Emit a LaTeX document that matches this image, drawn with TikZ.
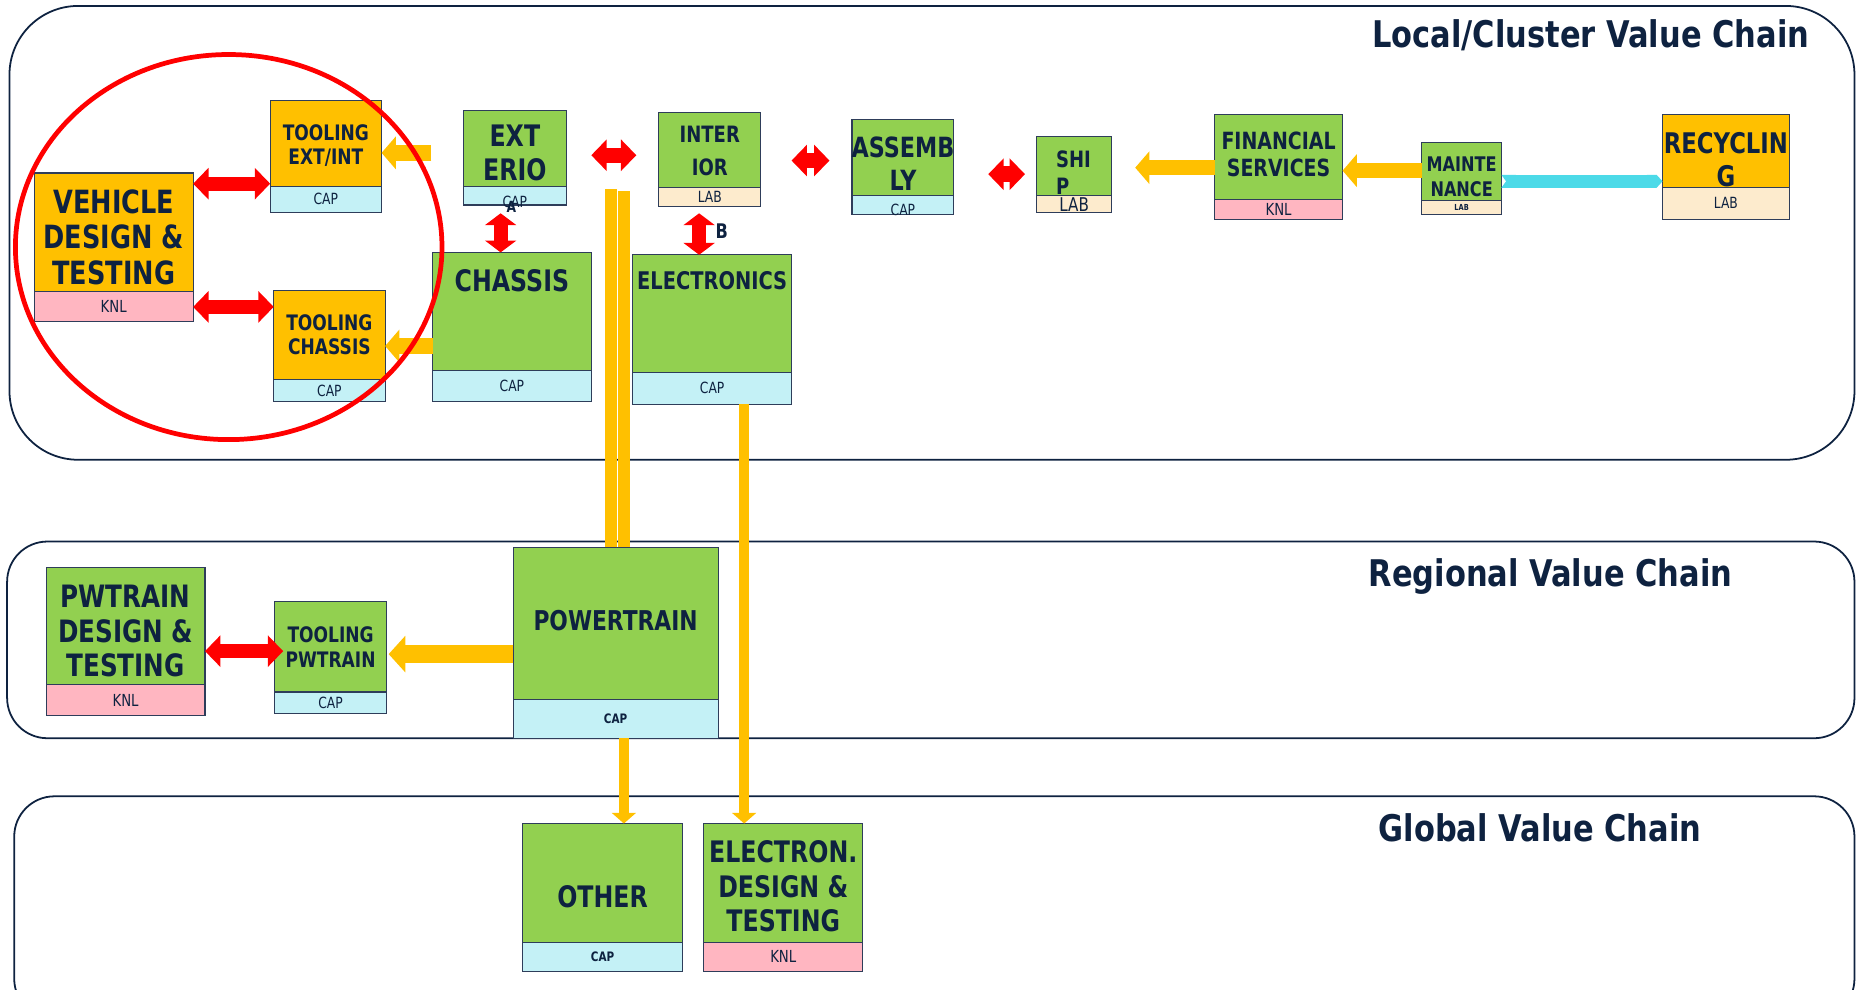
\documentclass[tikz,border=0pt]{standalone}
\usepackage{fontspec}
\setmainfont{DejaVu Sans}
\newfontfamily\boxfont[FakeStretch=0.8]{DejaVu Sans}
\newfontfamily\titlefont[FakeStretch=0.83]{DejaVu Sans}
\usetikzlibrary{arrows.meta,fit,calc}

\definecolor{navy}{HTML}{0E2240}
\definecolor{edgegrey}{HTML}{2E3D5A}
\definecolor{boxorange}{HTML}{FFC000}
\definecolor{boxgreen}{HTML}{92D050}
\definecolor{capblue}{HTML}{C4F1F6}
\definecolor{knlpink}{HTML}{FFB6C1}
\definecolor{labbeige}{HTML}{FDEBCD}
\definecolor{flowyellow}{HTML}{FFC000}
\definecolor{flowcyan}{HTML}{4CDAE8}
\definecolor{linkred}{HTML}{FF0000}

\tikzset{
  chainframe/.style={draw=navy, line width=1.5pt, rounded corners=#1},
  part/.style={draw=edgegrey, line width=0.9pt, inner sep=0pt, outer sep=0pt},
  lbl/.style n args={2}{text=navy, align=center, inner sep=0pt,
    font=\boxfont\bfseries\fontsize{#1}{#2}\selectfont},
  tag/.style={text=navy, inner sep=0pt, font=\boxfont\fontsize{#1}{#1}\selectfont},
  boldtag/.style={text=navy, inner sep=0pt, font=\boxfont\bfseries\fontsize{#1}{#1}\selectfont},
  chaintitle/.style={text=navy, inner sep=0pt, anchor=base east,
    font=\titlefont\bfseries\fontsize{31}{31}\selectfont},
  redlink/.style={draw=linkred, line width=12pt,
    {Triangle[length=13pt,width=26pt]}-{Triangle[length=13pt,width=26pt]}},
  redlinkv/.style={draw=linkred, line width=12pt,
    {Triangle[length=10pt,width=26pt]}-{Triangle[length=10pt,width=26pt]}},
  yellowflow/.style={draw=flowyellow, line width=13pt,
    -{Triangle[length=12pt,width=27pt]}},
  yellowdown/.style={draw=flowyellow, line width=9pt,
    -{Triangle[length=9pt,width=20pt]}},
  yellowbar/.style={draw=flowyellow, line width=9.5pt},
  cyanflow/.style={draw=flowcyan, line width=11pt,
    {Triangle Cap[reversed,length=4pt]}-{Triangle Cap[length=5pt]}},
}

% value-chain block: name, x1, y1, x2, y of the split, y2, body fill, strip fill
\newcommand\chainblock[8]{%
  \node[part, fill=#7, fit={(#2,#3) (#4,#5)}] (#1) {};
  \node[part, fill=#8, fit={(#2,#5) (#4,#6)}] (#1-s) {};
}

\begin{document}
\begin{tikzpicture}[x=1pt, y=-1pt]
\useasboundingbox (0,0) rectangle (1568,835);
\clip (0,0) rectangle (1568,835);

% the three value-chain frames
\draw[chainframe=58pt] (8,5) rectangle (1565,388);
\draw[chainframe=34pt] (6,457) rectangle (1565,623);
\draw[chainframe=34pt] (12,672) rectangle (1565,860);
\node[chaintitle] (t-local) at (1527,40) {Local/Cluster Value Chain};
\node[chaintitle] (t-regional) at (1462,495) {Regional Value Chain};
\node[chaintitle] (t-global) at (1436,710) {Global Value Chain};

% blocks
\chainblock{vehicle}{29}{146}{163}{246}{271}{boxorange}{knlpink}
\chainblock{toolext}{228}{85}{322}{157}{179}{boxorange}{capblue}
\chainblock{toolchas}{231}{245}{325}{320}{339}{boxorange}{capblue}
\chainblock{exterio}{391}{93}{478}{157}{173}{boxgreen}{capblue}
\chainblock{chassis}{365}{213}{499}{313}{339}{boxgreen}{capblue}
\chainblock{interior}{556}{95}{642}{158}{174}{boxgreen}{labbeige}
\chainblock{electronics}{534}{215}{668}{314}{341}{boxgreen}{capblue}
\chainblock{assembly}{719}{101}{805}{165}{181}{boxgreen}{capblue}
\chainblock{ship}{875}{115}{938}{165}{179}{boxgreen}{labbeige}
\chainblock{financial}{1025}{97}{1133}{168}{185}{boxgreen}{knlpink}
\chainblock{maint}{1200}{120}{1267}{169}{181}{boxgreen}{labbeige}
\chainblock{recyc}{1403}{97}{1510}{158}{185}{boxorange}{labbeige}
\chainblock{pwdesign}{39}{479}{173}{578}{604}{boxgreen}{knlpink}
\chainblock{toolpw}{232}{508}{326}{584}{602}{boxgreen}{capblue}
\chainblock{powertrain}{433}{462}{606}{590}{623}{boxgreen}{capblue}
\chainblock{other}{441}{695}{576}{795}{820}{boxgreen}{capblue}
\chainblock{electron}{594}{695}{728}{795}{820}{boxgreen}{knlpink}

% block captions
\node[lbl={27}{30}] (vehicle-l) at ([yshift=-4pt]vehicle.center) {VEHICLE\\DESIGN \&\\TESTING};
\node[lbl={18}{20}] (toolext-l) at ([yshift=-2pt]toolext.center) {TOOLING\\EXT/INT};
\node[lbl={18}{21}] (toolchas-l) at (toolchas.center) {TOOLING\\CHASSIS};
\node[lbl={25}{29}] (exterio-l) at ([yshift=-4pt]exterio.center) {EXT\\ERIO};
\node[lbl={25}{29}, anchor=north] (chassis-l) at ([yshift=-14pt]chassis.north) {CHASSIS};
\node[lbl={19}{28}] (interior-l) at ([yshift=-1pt]interior.center) {INTER\\IOR};
\node[lbl={20.5}{26}, anchor=north] (electronics-l) at ([yshift=-14pt]electronics.north) {ELECTRONICS};
\node[lbl={23.5}{28}] (assembly-l) at ([yshift=-5pt]assembly.center) {ASSEMB\\LY};
\node[lbl={19}{23}, align=left, anchor=west] (ship-l) at ([xshift=16pt,yshift=-6pt]ship.west) {SHI\\P};
\node[lbl={20}{23}] (financial-l) at ([yshift=2pt]financial.center) {FINANCIAL\\SERVICES};
\node[lbl={17}{21}] (maint-l) at ([yshift=-5pt]maint.center) {MAINTE\\NANCE};
\node[lbl={24}{28}] (recyc-l) at ([yshift=-7pt]recyc.center) {RECYCLIN\\G};
\node[lbl={26}{29.5}] (pwdesign-l) at ([yshift=-4pt]pwdesign.center) {PWTRAIN\\DESIGN \&\\TESTING};
\node[lbl={18}{21}] (toolpw-l) at (toolpw.center) {TOOLING\\PWTRAIN};
\node[lbl={23}{26}, anchor=north] (powertrain-l) at ([yshift=-53pt]powertrain.north) {POWERTRAIN};
\node[lbl={25}{28}] (other-l) at ([yshift=-12pt]other.center) {OTHER};
\node[lbl={25}{29}] (electron-l) at ([yshift=-3pt]electron.center) {ELECTRON.\\DESIGN \&\\TESTING};

% strip tags
\node[tag=14] (vehicle-t) at (vehicle-s.center) {KNL};
\node[tag=13] (toolext-t) at (toolext-s.center) {CAP};
\node[tag=13] (toolchas-t) at (toolchas-s.center) {CAP};
\node[tag=13] (exterio-t) at ([yshift=-5pt]exterio-s.center) {CAP};
\node[boldtag=13] (exterio-x) at ([xshift=-3pt,yshift=-10pt]exterio-s.center) {A};
\node[tag=13] (chassis-t) at (chassis-s.center) {CAP};
\node[tag=13] (interior-t) at (interior-s.center) {LAB};
\node[tag=13] (electronics-t) at (electronics-s.center) {CAP};
\node[tag=13] (assembly-t) at ([yshift=-4pt]assembly-s.center) {CAP};
\node[tag=16] (ship-t) at ([yshift=-1pt]ship-s.center) {LAB};
\node[tag=14] (financial-t) at (financial-s.center) {KNL};
\node[boldtag=7] (maint-t) at (maint-s.center) {LAB};
\node[tag=13] (recyc-t) at (recyc-s.center) {LAB};
\node[tag=14] (pwdesign-t) at (pwdesign-s.center) {KNL};
\node[tag=13] (toolpw-t) at (toolpw-s.center) {CAP};
\node[boldtag=11] (powertrain-t) at (powertrain-s.center) {CAP};
\node[boldtag=11] (other-t) at (other-s.center) {CAP};
\node[tag=14] (electron-t) at (electron-s.center) {KNL};
\node[boldtag=17] (interior-x) at ([xshift=10pt,yshift=-21pt]interior-s.south) {B};

% yellow flows
\coordinate (barA) at ([xshift=-3.8pt,yshift=-33pt]interior.west -| powertrain.north);
\coordinate (barB) at ([xshift=7pt,yshift=-33pt]interior.west -| powertrain.north);
\draw[yellowbar] (barA) -- (barA |- powertrain.north);
\draw[yellowbar] ([yshift=-2pt]barB) -- (barB |- powertrain.north);
\draw[yellowdown] (barB |- powertrain-s.south) -- (barB |- other.north);
\coordinate (elecOut) at ([xshift=27pt]electronics-s.south);
\draw[yellowdown] (elecOut) -- (elecOut |- electron.north);

\coordinate (fExt) at ([xshift=-27pt,yshift=-4pt]exterio.west);
\draw[yellowflow] (fExt) -- (fExt -| toolext.east);
\coordinate (fChas) at ([yshift=-29pt]chassis.west);
\draw[yellowflow] (fChas) -- (fChas -| toolchas.east);
\coordinate (fFin) at ([yshift=-9pt]financial.west);
\draw[yellowflow] (fFin) -- ([xshift=20pt]fFin -| ship.east);
\coordinate (fMaint) at ([yshift=0.5pt]maint.west);
\draw[yellowflow] (fMaint) -- (fMaint -| financial.east);
\coordinate (fPw) at ([yshift=-26pt]powertrain.west);
\draw[line width=15pt, draw=flowyellow, -{Triangle[length=14pt,width=30pt]}]
  (fPw) -- ([xshift=2pt]fPw -| toolpw.east);

% cyan flow to recycling
\coordinate (cMaint) at ([yshift=-8.5pt]maint.east);
\draw[cyanflow] (cMaint) -- (cMaint -| recyc.west);

% red two-way links
\coordinate (rVa) at ([yshift=-9pt]vehicle.north east);
\draw[redlink] (rVa) -- (rVa -| toolext.west);
\coordinate (rVb) at ([yshift=-13pt]vehicle.south east);
\draw[redlink] (rVb) -- (rVb -| toolchas.west);
\coordinate (rPw) at ([yshift=-21pt]pwdesign.east);
\draw[redlink] (rPw) -- ([xshift=7pt]rPw -| toolpw.west);
\coordinate (rEx) at ([xshift=-12pt,yshift=-7pt]exterio-s.south);
\draw[redlinkv] (rEx) -- (rEx |- chassis.north);
\coordinate (rIn) at ([xshift=-9pt,yshift=-6pt]interior-s.south);
\draw[redlinkv] (rIn) -- (rIn |- electronics.north);
\coordinate (rXa) at ([xshift=21pt,yshift=-6pt]exterio.east);
\draw[redlink, line width=13pt] (rXa) -- ([xshift=-19pt]rXa -| interior.west);
\coordinate (rXb) at ([xshift=26pt,yshift=-9pt]interior.east);
\draw[redlink, line width=13pt] (rXb) -- ([xshift=-19pt]rXb -| assembly.west);
\coordinate (rXc) at ([xshift=29pt,yshift=-14pt]assembly.east);
\draw[redlink, line width=13pt] (rXc) -- ([xshift=-10pt]rXc -| ship.west);

% highlight around the vehicle design cluster
\draw[draw=linkred, line width=4pt] (193,208.5) ellipse [x radius=180, y radius=162.5];
\end{tikzpicture}
\end{document}
